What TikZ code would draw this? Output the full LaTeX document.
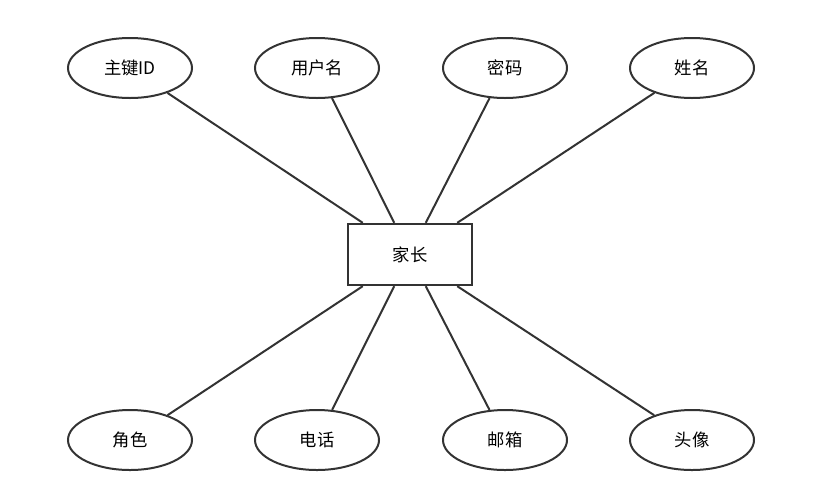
\documentclass[tikz,border=0pt]{standalone}
\usepackage{fontspec}
\setmainfont{Noto Sans CJK SC}
\usetikzlibrary{shapes.geometric,calc}
\definecolor{ln}{HTML}{333333}
\begin{document}
\begin{tikzpicture}[x=0.75pt,y=-0.75pt,
  attr/.style={ellipse,draw=ln,line width=1.5pt,minimum width=93pt,minimum height=45pt,inner sep=0pt,font=\fontsize{13}{15}\selectfont},
  ent/.style={rectangle,draw=ln,line width=1.5pt,minimum width=93pt,minimum height=46pt,inner sep=0pt,font=\fontsize{13}{15}\selectfont},
  conn/.style={draw=ln,line width=1.5pt}]
\useasboundingbox (0,0) rectangle (813,497);
\node[ent] (e) at (410,254.5) {家长};
\node[attr] (a1) at (130,68) {主键ID};
\node[attr] (a2) at (317,68) {用户名};
\node[attr] (a3) at (505,68) {密码};
\node[attr] (a4) at (692,68) {姓名};
\node[attr] (b1) at (130,440) {角色};
\node[attr] (b2) at (317,440) {电话};
\node[attr] (b3) at (505,440) {邮箱};
\node[attr] (b4) at (692,440) {头像};
\coordinate (t1) at ($(e.north west)!0.125!(e.north east)$);
\coordinate (t2) at ($(e.north west)!0.375!(e.north east)$);
\coordinate (t3) at ($(e.north west)!0.625!(e.north east)$);
\coordinate (t4) at ($(e.north west)!0.875!(e.north east)$);
\coordinate (s1) at ($(e.south west)!0.125!(e.south east)$);
\coordinate (s2) at ($(e.south west)!0.375!(e.south east)$);
\coordinate (s3) at ($(e.south west)!0.625!(e.south east)$);
\coordinate (s4) at ($(e.south west)!0.875!(e.south east)$);
\draw[conn] (t1) -- (a1);
\draw[conn] (t2) -- (a2);
\draw[conn] (t3) -- (a3);
\draw[conn] (t4) -- (a4);
\draw[conn] (s1) -- (b1);
\draw[conn] (s2) -- (b2);
\draw[conn] (s3) -- (b3);
\draw[conn] (s4) -- (b4);
\end{tikzpicture}
\end{document}
